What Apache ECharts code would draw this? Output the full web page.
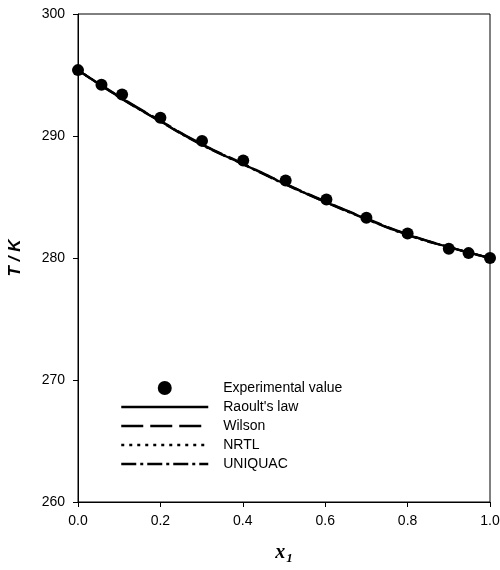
<!doctype html>
<html>
<head>
<meta charset="utf-8">
<title>T-x1</title>
<script src="https://cdn.jsdelivr.net/npm/echarts@6/dist/echarts.min.js"></script>
<style>
  html, body { margin: 0; padding: 0; background: #fff; }
  #chart { width: 500px; height: 570px; }
</style>
</head>
<body>
<div id="chart"></div>
<script>
// experimental points
var expX = [0.0, 0.057, 0.107, 0.2, 0.301, 0.401, 0.504, 0.603, 0.70, 0.80, 0.90, 0.948, 1.0];
var expT = [295.4, 294.2, 293.4, 291.5, 289.6, 288.0, 286.35, 284.8, 283.3, 282.0, 280.75, 280.4, 280.0];

// model curves
var modelX = [0.0, 0.1, 0.2, 0.3, 0.4, 0.5, 0.6, 0.7, 0.8, 0.9, 1.0];
var raoultT = [295.4, 293.2, 291.2, 289.3, 287.7, 286.1, 284.6, 283.2, 281.9, 280.9, 280.0];
var wilsonT = [295.4, 293.25, 291.25, 289.35, 287.75, 286.15, 284.65, 283.25, 281.95, 280.9, 280.0];
var nrtlT = [295.4, 293.22, 291.22, 289.32, 287.72, 286.12, 284.62, 283.22, 281.92, 280.9, 280.0];
var uniquacT = [295.4, 293.18, 291.18, 289.28, 287.68, 286.08, 284.58, 283.18, 281.88, 280.88, 280.0];

var xTicks = [0, 1, 0.2];   // min, max, interval
var yTicks = [260, 300, 10];

function pairs(xs, ys) {
    var out = [];
    for (var i = 0; i < xs.length; i++) out.push([xs[i], ys[i]]);
    return out;
}

function modelSeries(name, ys, dash) {
    return {
        name: name,
        type: 'line',
        data: pairs(modelX, ys),
        smooth: true,
        symbol: 'none',
        itemStyle: { color: '#000' },
        lineStyle: { color: '#000', width: 2.2, type: dash },
        z: 2
    };
}

function legendLine(name, dash) {
    return { name: name, itemStyle: { opacity: 0 }, lineStyle: { color: '#000', width: 2.5, type: dash } };
}

var chart = echarts.init(document.getElementById('chart'));
var font = 'Liberation Sans, Arial, sans-serif';
var serif = 'Liberation Serif, Times New Roman, serif';

var option = {
    animation: false,
    backgroundColor: '#fff',
    grid: {
        left: 78, right: 10, top: 14, bottom: 68,
        outerBoundsMode: 'none',
        show: true, borderColor: '#000', borderWidth: 1
    },
    legend: {
        orient: 'vertical',
        left: 115, top: 376,
        itemWidth: 87, itemHeight: 14, itemGap: 5,
        textStyle: { fontFamily: font, fontSize: 14, color: '#000', padding: [0, 0, 0, 10] },
        data: [
            { name: 'Experimental value' },
            legendLine("Raoult's law", 'solid'),
            legendLine('Wilson', [22, 7]),
            legendLine('NRTL', [3, 5]),
            legendLine('UNIQUAC', [15, 4, 3, 4])
        ]
    },
    xAxis: {
        type: 'value',
        min: xTicks[0], max: xTicks[1], interval: xTicks[2],
        name: '{x|x}{s|1}',
        nameLocation: 'middle',
        nameGap: 38,
        nameTextStyle: {
            rich: {
                x: { fontFamily: serif, fontSize: 20, fontWeight: 'bold', fontStyle: 'italic', color: '#000' },
                s: { fontFamily: serif, fontSize: 13, fontWeight: 'bold', fontStyle: 'italic', color: '#000', padding: [12, 0, 0, 1] }
            }
        },
        axisLine: { lineStyle: { color: '#000', width: 1 } },
        axisTick: { length: 5, lineStyle: { color: '#000' } },
        axisLabel: { fontFamily: font, fontSize: 14, color: '#000', margin: 12,
            formatter: function (v) { return v.toFixed(1); } },
        splitLine: { show: false }
    },
    yAxis: {
        type: 'value',
        min: yTicks[0], max: yTicks[1], interval: yTicks[2],
        name: 'T / K',
        nameLocation: 'middle',
        nameRotate: 90,
        nameGap: 54,
        nameTextStyle: { fontFamily: font, fontSize: 17, fontWeight: 'bold', fontStyle: 'italic', color: '#000' },
        axisLine: { lineStyle: { color: '#000', width: 1 } },
        axisTick: { length: 5, lineStyle: { color: '#000' } },
        axisLabel: { fontFamily: font, fontSize: 14, color: '#000', margin: 13 },
        splitLine: { show: false }
    },
    series: [
        {
            name: 'Experimental value',
            type: 'scatter',
            data: pairs(expX, expT),
            symbol: 'circle',
            symbolSize: 12,
            itemStyle: { color: '#000', opacity: 1 },
            z: 5
        },
        modelSeries("Raoult's law", raoultT, 'solid'),
        modelSeries('Wilson', wilsonT, [22, 7]),
        modelSeries('NRTL', nrtlT, [3, 5]),
        modelSeries('UNIQUAC', uniquacT, [15, 4, 3, 4])
    ]
};

chart.setOption(option);
</script>
</body>
</html>
